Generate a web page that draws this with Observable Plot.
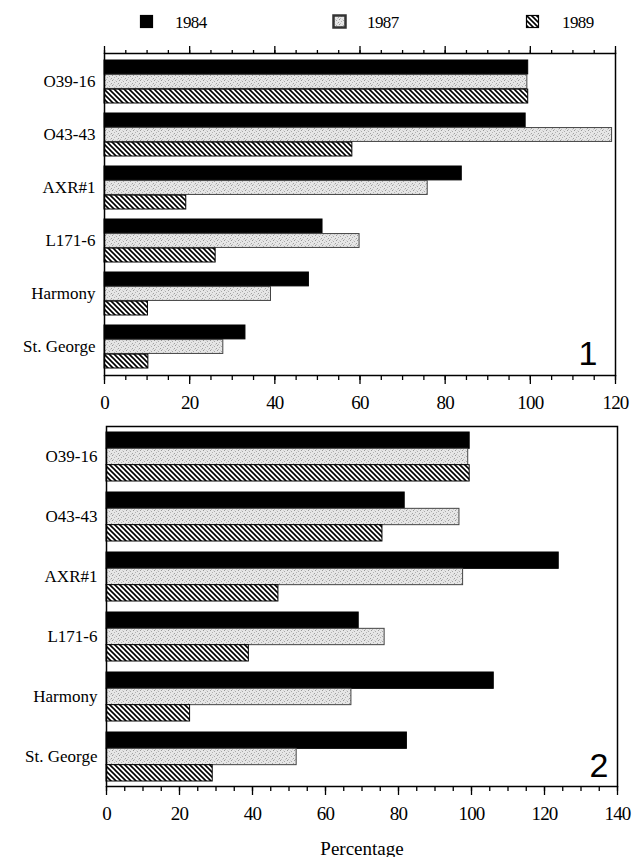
<!DOCTYPE html>
<html><head><meta charset="utf-8">
<script src="https://cdn.jsdelivr.net/npm/d3@7"></script>
<script src="https://cdn.jsdelivr.net/npm/@observablehq/plot@0.6"></script>
<style>
body{margin:0;background:#fff;}
#root{position:relative;width:634px;height:857px;font-family:'Liberation Serif','Times New Roman',serif;overflow:hidden;}
.panel{position:absolute;left:0;}
.panel svg, .panel svg text{font-family:'Liberation Serif','Times New Roman',serif !important;}
.panel svg g[aria-label="x-axis tick label"] text{letter-spacing:-0.8px;}
.panel svg g[aria-label="text"] text{font-family:'Liberation Sans',Arial,sans-serif !important;}
.leg{position:absolute;font-size:17px;line-height:17px;letter-spacing:-0.6px;color:#000;}
.sw{position:absolute;}
</style></head><body><div id="root"></div>
<script>
// ---- data ----
const categories = ["O39-16", "O43-43", "AXR#1", "L171-6", "Harmony", "St. George"];
const years = ["1984", "1987", "1989"];

const panel1_1984 = [99.5, 98.9, 83.9, 51.2, 48.0, 33.1];
const panel1_1987 = [99.3, 119.2, 75.9, 59.9, 39.1, 27.9];
const panel1_1989 = [99.5, 58.2, 19.2, 26.1, 10.2, 10.3];

const panel2_1984 = [99.5, 81.7, 123.9, 69.1, 106.1, 82.3];
const panel2_1987 = [99.1, 96.7, 97.7, 76.2, 67.1, 52.1];
const panel2_1989 = [99.5, 75.6, 47.1, 39.0, 22.9, 29.1];

const panel1_ticks = [0, 20, 40, 60, 80, 100, 120];
const panel2_ticks = [0, 20, 40, 60, 80, 100, 120, 140];
const minorStep = 5;
const axisTitle = "Percentage";
const panelNumbers = ["1", "2"];

const serif = "'Liberation Serif', 'Times New Roman', serif";
const sans = "'Liberation Sans', Arial, sans-serif";

// ---- patterns ----
function makeDefs(suffix) {
  const ns = "http://www.w3.org/2000/svg";
  const d = document.createElementNS(ns, "defs");
  d.innerHTML = `
  <pattern id="dots${suffix}" width="7" height="5" patternUnits="userSpaceOnUse">
    <rect width="7" height="5" fill="#e6e6e6"/>
    <rect x="0" y="0" width="1" height="1" fill="#999"/>
    <rect x="4" y="1" width="1" height="1" fill="#aaa"/>
    <rect x="2" y="2" width="1" height="1" fill="#b4b4b4"/>
    <rect x="6" y="3" width="1" height="1" fill="#a0a0a0"/>
    <rect x="1" y="4" width="1" height="1" fill="#bbb"/>
    <rect x="5" y="4" width="1" height="1" fill="#c8c8c8"/>
    <rect x="3" y="0" width="1" height="1" fill="#d0d0d0"/>
  </pattern>
  <pattern id="hatch${suffix}" width="5" height="5" patternUnits="userSpaceOnUse">
    <rect width="5" height="5" fill="#fff"/>
    <path d="M-1,-1L6,6M-1,4L1,6M4,-1L6,1" stroke="#000" stroke-width="1.6"/>
  </pattern>`;
  return d;
}

function fillsFor(suffix) {
  return ["#000", `url(#dots${suffix})`, `url(#hatch${suffix})`];
}
const strokes = ["#000", "#444", "#000"];

function panel(o) {
  const rows = categories.flatMap((c, i) => years.map((y, j) => ({category: c, year: y, value: o.series[j][i]})));
  const bh = (o.height - o.mt - o.mb) / categories.length;
  const barH = (bh - o.gapTop - o.gapBottom) / years.length;
  const fills = fillsFor(o.suffix);
  const minor = d3.range(0, o.xmax + 0.001, minorStep);
  const marks = [() => makeDefs(o.suffix)];
  years.forEach((y, j) => {
    marks.push(Plot.barX(rows.filter(r => r.year === y), {
      x: "value", y: "category", fill: fills[j], stroke: strokes[j], strokeWidth: 1,
      insetTop: o.gapTop + j * barH,
      insetBottom: o.gapBottom + (years.length - 1 - j) * barH
    }));
  });
  marks.push(Plot.frame({stroke: "#000", strokeWidth: 1.5}));
  marks.push(Plot.axisY({tickSize: 0, tickPadding: 9, fontSize: 17, fontFamily: serif, label: null}));
  marks.push(Plot.axisX({ticks: o.ticks, tickSize: 9, tickPadding: 11, fontSize: 19, fontFamily: serif, strokeWidth: 1.3,
    label: o.label, labelAnchor: "center", labelArrow: "none"}));
  marks.push(Plot.axisX({ticks: minor, tickSize: 5, tickFormat: () => "", strokeWidth: 1.3, label: null}));
  if (o.topAxis) {
    marks.push(Plot.axisX({anchor: "top", ticks: o.ticks, tickSize: 8, tickFormat: () => "", strokeWidth: 1.3, label: null}));
    marks.push(Plot.axisX({anchor: "top", ticks: minor, tickSize: 4, tickFormat: () => "", strokeWidth: 1.3, label: null}));
  }
  marks.push(Plot.text([o.number], {text: d => d, frameAnchor: "bottom-right", textAnchor: "end", lineAnchor: "bottom",
    dx: o.numDx, dy: o.numDy, fontSize: 34, fontFamily: sans, fill: "#000"}));
  return Plot.plot({
    width: 634, height: o.height,
    marginTop: o.mt, marginBottom: o.mb, marginLeft: o.ml, marginRight: o.mr,
    x: {domain: [0, o.xmax]},
    y: {domain: categories, padding: 0},
    style: {fontFamily: serif, fontSize: "18px", color: "#000", background: "transparent"},
    marks
  });
}

const root = document.getElementById("root");

const p1 = panel({series: [panel1_1984, panel1_1987, panel1_1989], xmax: 120, ticks: panel1_ticks,
  height: 420, mt: 53, mb: 45, ml: 104, mr: 19, gapTop: 5, gapBottom: 5, topAxis: true, label: null,
  number: panelNumbers[0], numDx: -18, numDy: -11, suffix: "1"});
const d1 = document.createElement("div"); d1.className = "panel"; d1.style.top = "0px"; d1.appendChild(p1); root.appendChild(d1);

const p2 = panel({series: [panel2_1984, panel2_1987, panel2_1989], xmax: 140, ticks: panel2_ticks,
  height: 437, mt: 6, mb: 71, ml: 106, mr: 17, gapTop: 6, gapBottom: 5, topAxis: false, label: axisTitle,
  number: panelNumbers[1], numDx: -9, numDy: -10, suffix: "2"});
const d2 = document.createElement("div"); d2.className = "panel"; d2.style.top = "420px"; d2.appendChild(p2); root.appendChild(d2);

// ---- legend ----
const legendSwatchX = [139, 332, 525];
const legendTextX = [175, 367, 562];
const legFills = fillsFor("1");
years.forEach((y, j) => {
  const sw = document.createElementNS("http://www.w3.org/2000/svg", "svg");
  sw.setAttribute("width", 16); sw.setAttribute("height", 15);
  sw.setAttribute("class", "sw");
  sw.style.left = legendSwatchX[j] + "px"; sw.style.top = "14px";
  sw.innerHTML = `<rect x="1.5" y="1.5" width="12" height="12" fill="${legFills[j]}" stroke="${j === 1 ? '#333' : '#000'}" stroke-width="${j === 1 ? 2.5 : 1.2}"/>`;
  root.appendChild(sw);
  const t = document.createElement("div");
  t.className = "leg"; t.textContent = y;
  t.style.left = legendTextX[j] + "px"; t.style.top = "14px";
  root.appendChild(t);
});
</script></body></html>
